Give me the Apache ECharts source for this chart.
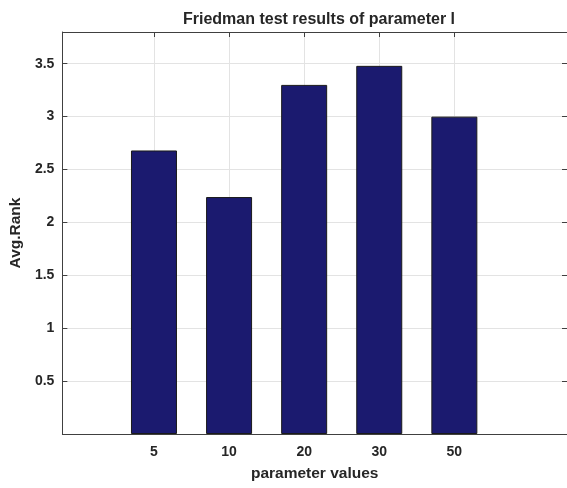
<!DOCTYPE html>
<html>
<head>
<meta charset="utf-8">
<script src="https://cdn.jsdelivr.net/npm/echarts@6/dist/echarts.min.js"></script>
<style>
  html, body { margin: 0; padding: 0; background: #ffffff; }
  #chart { width: 567px; height: 488px; }
</style>
</head>
<body>
<div id="chart"></div>
<script>
// Average Friedman rank for each tested value of parameter l
const paramLabels = ['5', '10', '20', '30', '50'];
const paramSlots = [1, 2, 3, 4, 5];
const avgRank = [2.68, 2.24, 3.30, 3.48, 3.00];
const yTicks = [0.5, 1, 1.5, 2, 2.5, 3, 3.5];

const textColor = '#262626';
const frameColor = '#404040';
const gridColor = '#e3e3e3';
const fontFamily = '"Liberation Sans", Arial, sans-serif';

const chart = echarts.init(document.getElementById('chart'), null, { renderer: 'canvas' });

const barData = paramSlots.map((s, i) => [s, avgRank[i]]);

const frameLine = { show: true, onZero: false, lineStyle: { color: frameColor, width: 1 } };

chart.setOption({
  animation: false,
  backgroundColor: '#ffffff',
  title: {
    text: 'Friedman test results of parameter l',
    left: 314,
    top: 7,
    textAlign: 'center',
    textStyle: { fontFamily, fontSize: 16, fontWeight: 'bold', color: textColor }
  },
  grid: { left: 62, right: -1, top: 32, bottom: 54, containLabel: false },
  xAxis: [
    {
      type: 'value',
      position: 'bottom',
      min: -0.22,
      max: 6.5,
      name: 'parameter values',
      nameLocation: 'middle',
      nameGap: 32,
      nameTextStyle: { fontFamily, fontSize: 15.5, fontWeight: 'bold', color: textColor },
      axisLine: frameLine,
      axisTick: { show: true, inside: true, length: 5, customValues: paramSlots, lineStyle: { color: frameColor } },
      axisLabel: {
        show: true,
        customValues: paramSlots,
        margin: 11,
        fontFamily, fontSize: 14, fontWeight: 'bold', color: textColor,
        formatter: v => paramLabels[Math.round(v) - 1] || ''
      },
      splitLine: { show: true, lineStyle: { color: gridColor, width: 1 } }
    },
    {
      type: 'value',
      position: 'top',
      min: -0.22,
      max: 6.5,
      axisLine: frameLine,
      axisTick: { show: true, inside: true, length: 5, customValues: paramSlots, lineStyle: { color: frameColor } },
      axisLabel: { show: false },
      splitLine: { show: false }
    }
  ],
  yAxis: [
    {
      type: 'value',
      position: 'left',
      min: 0,
      max: 3.8,
      interval: 0.5,
      name: 'Avg.Rank',
      nameLocation: 'middle',
      nameGap: 38,
      nameTextStyle: { fontFamily, fontSize: 15.5, fontWeight: 'bold', color: textColor },
      axisLine: frameLine,
      axisTick: { show: true, inside: true, length: 5, customValues: yTicks, lineStyle: { color: frameColor } },
      axisLabel: {
        show: true,
        customValues: yTicks,
        margin: 8,
        fontFamily, fontSize: 14, fontWeight: 'bold', color: textColor,
        formatter: v => String(v)
      },
      splitLine: { show: true, lineStyle: { color: gridColor, width: 1 } }
    },
    {
      type: 'value',
      position: 'right',
      min: 0,
      max: 3.8,
      interval: 0.5,
      axisLine: frameLine,
      axisTick: { show: true, inside: true, length: 5, customValues: yTicks, lineStyle: { color: frameColor } },
      axisLabel: { show: false },
      splitLine: { show: false }
    }
  ],
  series: [
    {
      type: 'bar',
      xAxisIndex: 0,
      yAxisIndex: 0,
      data: barData,
      barWidth: 46,
      itemStyle: { color: '#1b1a6f', borderColor: '#1a1a1a', borderWidth: 1 }
    }
  ]
});
</script>
</body>
</html>
